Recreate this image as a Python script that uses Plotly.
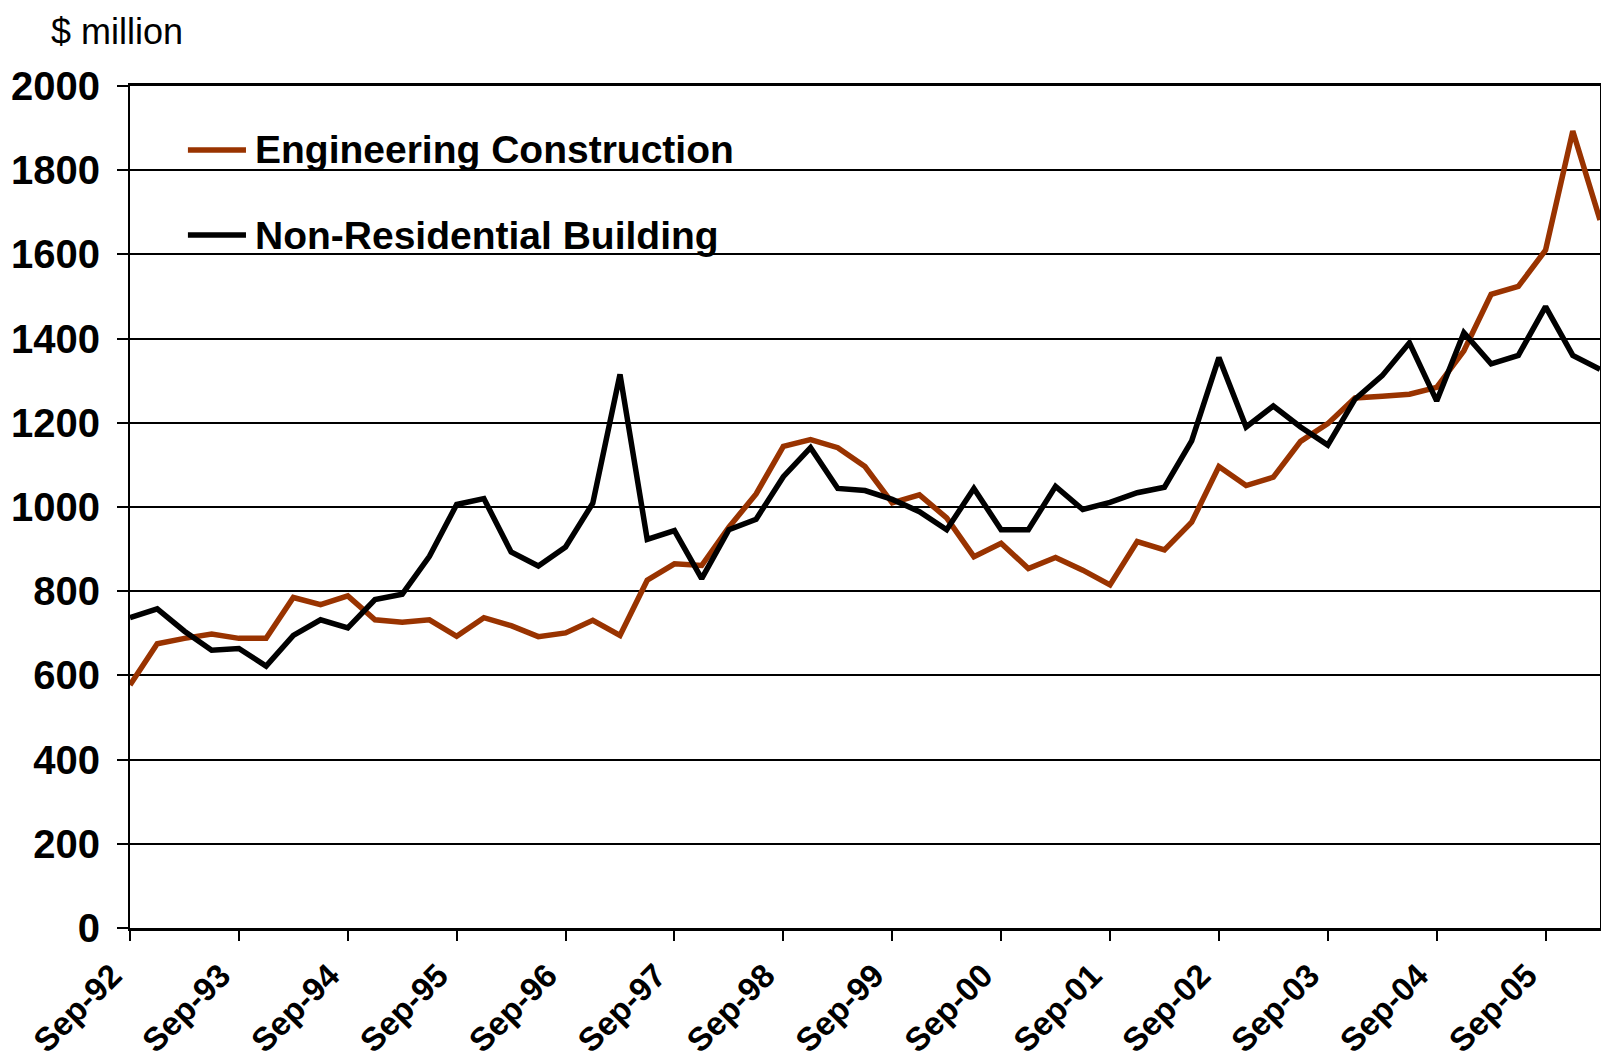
import plotly.graph_objects as go

# quarterly categories Sep-92 .. Mar-06
months = ["Sep", "Dec", "Mar", "Jun"]
quarters = []
for i in range(55):
    yr = (92 + (i + 2) // 4) % 100
    quarters.append(f"{months[i % 4]}-{yr:02d}")

tick_labels = quarters[::4]  # Sep-92 ... Sep-05

engineering = [577, 675, 688, 698, 688, 688, 785, 768, 789, 732, 726, 732, 693, 737, 718,
               692, 701, 731, 695, 826, 865, 861, 952, 1031, 1144, 1160, 1141, 1096, 1010,
               1029, 974, 882, 914, 854, 880, 850, 815, 918, 898, 964, 1096, 1051, 1071,
               1156, 1198, 1259, 1263, 1268, 1284, 1371, 1505, 1524, 1610, 1893, 1682]

non_residential = [737, 758, 705, 660, 664, 622, 695, 732, 713, 780, 793, 883, 1006, 1020, 893,
                   860, 905, 1009, 1315, 923, 944, 830, 946, 971, 1072, 1141, 1044, 1039, 1018,
                   989, 946, 1044, 946, 946, 1049, 994, 1011, 1034, 1047, 1157, 1355, 1190, 1240,
                   1190, 1147, 1256, 1312, 1390, 1252, 1414, 1340, 1360, 1476, 1360, 1327]

series_names = ["Engineering Construction", "Non-Residential Building"]
series_colors = ["#993300", "#000000"]

FONT = "Liberation Sans, Arial, sans-serif"

fig = go.Figure()
for name, vals, col in zip(series_names, [engineering, non_residential], series_colors):
    fig.add_trace(go.Scatter(x=quarters, y=vals, mode="lines", name=name,
                             line=dict(color=col, width=5.5), showlegend=False))

# hand-made legend box (white box hides the gridlines, like the original)
fig.add_shape(type="rect", xref="paper", yref="paper", x0=0.0122, x1=0.435, y0=0.758, y1=0.977,
              fillcolor="white", line=dict(width=0), layer="between")
leg_y = [0.924, 0.823]
for name, col, yy in zip(series_names, series_colors, leg_y):
    fig.add_shape(type="line", xref="paper", yref="paper", x0=0.0394, x1=0.0789, y0=yy, y1=yy,
                  line=dict(color=col, width=5.5))
    fig.add_annotation(text=name, xref="paper", yref="paper", x=0.0836, y=yy,
                       xanchor="left", yanchor="middle", showarrow=False,
                       font=dict(family=FONT, size=39, color="black", weight="bold"))

# unit label above the y axis
fig.add_annotation(text="$ million", xref="paper", yref="paper", x=-0.055, y=1.092,
                   xanchor="left", yanchor="top", showarrow=False,
                   font=dict(family=FONT, size=36, color="black"))

fig.update_xaxes(type="category", range=[0, 54], tickvals=tick_labels, ticktext=tick_labels,
                 tickangle=-45, ticks="outside", ticklen=10, tickwidth=2, tickcolor="black",
                 ticklabelstandoff=2, ticklabelshift=-18, automargin=False,
                 tickfont=dict(family=FONT, size=33, color="black", weight="bold"),
                 showline=True, linecolor="black", linewidth=3, mirror=True,
                 showgrid=False, zeroline=False)
fig.update_yaxes(range=[0, 2000], dtick=200, ticks="outside", ticklen=11, tickwidth=2,
                 tickcolor="black", ticklabelstandoff=9, automargin=False,
                 tickfont=dict(family=FONT, size=40, color="black", weight="bold"),
                 showline=True, linecolor="black", linewidth=2, mirror=True,
                 showgrid=True, gridcolor="black", gridwidth=1.5, zeroline=False)

# page body adds an 8px margin, so the figure is a bit smaller than the window
fig.update_layout(width=1593, height=1050, margin=dict(l=122, r=1, t=78, b=130),
                  plot_bgcolor="white", paper_bgcolor="white")

fig.write_html("out.html")
